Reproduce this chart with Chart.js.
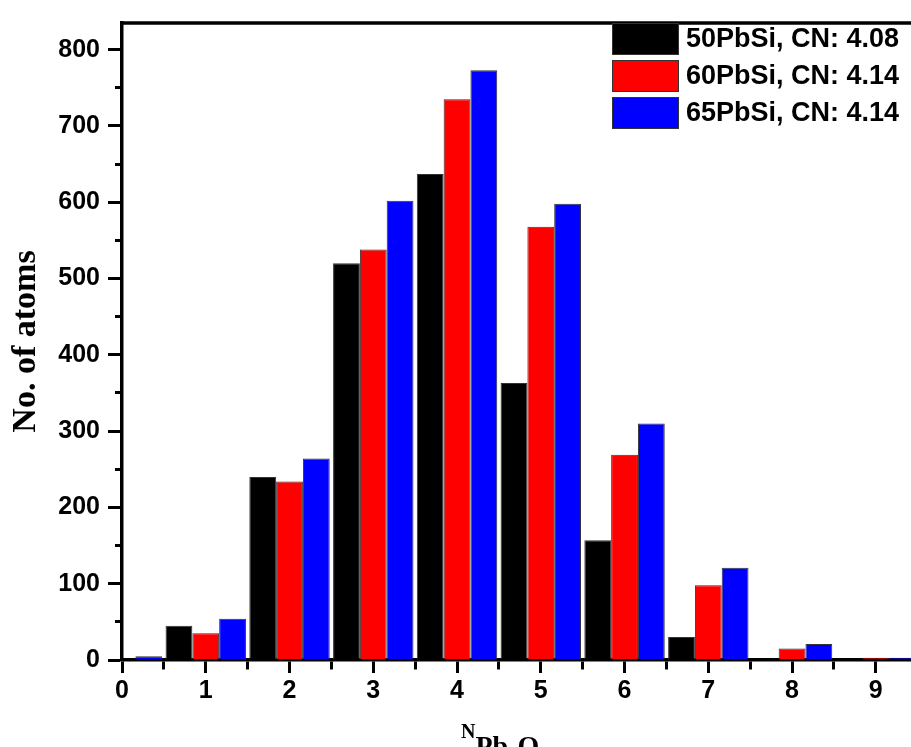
<!DOCTYPE html>
<html>
<head>
<meta charset="utf-8">
<script src="https://cdn.jsdelivr.net/npm/chart.js@4"></script>
<style>
    body { margin: 0; background: #fff; }
    #wrap { position: relative; width: 911px; height: 747px; overflow: hidden; }
    #legend { position: absolute; left: 612px; top: 20px; font: bold 27px 'Liberation Sans', Arial, sans-serif; }
    .row { display: flex; align-items: center; height: 37px; }
    .box { width: 65px; height: 30px; border: 1px solid #333; margin-right: 7px; }
    #xtitle { position: absolute; left: 461px; top: 719px; font: bold 20px 'Liberation Serif', 'Times New Roman', serif; line-height: 19px; white-space: nowrap; }
    #xtitle span { position: relative; top: 17px; font-size: 28px; }
</style>
</head>
<body>
<div id="wrap">
    <canvas id="cnChart"></canvas>
    <div id="legend"></div>
    <div id="xtitle">N<span>Pb-O</span></div>
</div>
<script>
// Pb-O coordination number distribution
const categories = [0, 1, 2, 3, 4, 5, 6, 7, 8, 9];
const pb50 = [0, 45, 240, 520, 637, 363, 157, 30, 0, 0];
const pb60 = [0, 35, 234, 538, 735, 568, 269, 98, 15, 3];
const pb65 = [5, 54, 264, 602, 773, 598, 310, 121, 21, 3];
const seriesLabels = ['50PbSi, CN: 4.08', '60PbSi, CN: 4.14', '65PbSi, CN: 4.14'];
const seriesColors = ['#000000', '#ff0000', '#0000ff'];

function initializeCnChart() {
    const ctx = document.getElementById('cnChart').getContext('2d');

    const toPoints = vals => categories.map((c, i) => ({ x: c, y: vals[i] }));
    const datasets = [pb50, pb60, pb65].map((vals, i) => ({
        label: seriesLabels[i],
        data: toPoints(vals),
        backgroundColor: seriesColors[i],
        borderColor: '#333',
        borderWidth: 1,
        barPercentage: 1,
        // ruler uses the 0.5 minor tick spacing, so double it to fill ~96% of a unit
        categoryPercentage: 1.92
    }));

    // top frame line
    const frameTop = {
        id: 'frameTop',
        afterDraw(chart) {
            const a = chart.chartArea;
            const c = chart.ctx;
            c.save();
            c.strokeStyle = '#000';
            c.lineWidth = 3.5;
            c.beginPath();
            c.moveTo(a.left - 1.5, a.top);
            c.lineTo(a.right, a.top);
            c.stroke();
            c.restore();
        }
    };

    const tickFont = { family: "'Liberation Sans', Arial, sans-serif", size: 25, weight: 'bold' };

    new Chart(ctx, {
        type: 'bar',
        data: { datasets: datasets },
        options: {
            responsive: true,
            maintainAspectRatio: false,
            animation: false,
            layout: { padding: { top: 13, right: 0, left: 0, bottom: 0 } },
            plugins: {
                legend: { display: false },
                tooltip: { enabled: false }
            },
            scales: {
                x: {
                    type: 'linear',
                    min: 0,
                    max: 9.42,
                    offset: false,
                    z: 1,
                    afterFit: s => { s.height = 87; },
                    grid: {
                        offset: false,
                        drawOnChartArea: false,
                        color: '#000',
                        tickLength: 13,
                        tickWidth: 3,
                        tickBorderDash: c => (c.tick && c.tick.value % 1 !== 0) ? [8, 100] : []
                    },
                    border: { color: '#000', width: 3.5 },
                    ticks: {
                        stepSize: 0.5,
                        includeBounds: false,
                        autoSkip: false,
                        maxRotation: 0,
                        padding: 3,
                        color: '#000',
                        font: tickFont,
                        callback: v => v % 1 === 0 ? v : ''
                    }
                },
                y: {
                    min: 0,
                    max: 835,
                    z: 1,
                    afterFit: s => { s.width = 122; },
                    grid: {
                        drawOnChartArea: false,
                        color: '#000',
                        tickLength: 14,
                        tickWidth: 3,
                        tickBorderDash: c => (c.tick && c.tick.value % 100 !== 0) ? [0, 7, 10, 100] : []
                    },
                    border: { color: '#000', width: 3.5 },
                    ticks: {
                        stepSize: 50,
                        includeBounds: false,
                        padding: 8,
                        color: '#000',
                        font: tickFont,
                        callback: v => v % 100 === 0 ? v : ''
                    },
                    title: {
                        display: true,
                        text: 'No. of atoms',
                        color: '#000',
                        padding: { top: 6, bottom: 0 },
                        font: { family: "'Liberation Serif', 'Times New Roman', serif", size: 34, weight: 'bold' }
                    }
                }
            }
        },
        plugins: [frameTop]
    });

    // legend drawn in the top right corner of the plot
    const legend = document.getElementById('legend');
    seriesLabels.forEach((lab, i) => {
        const row = document.createElement('div');
        row.className = 'row';
        row.innerHTML = '<div class="box" style="background:' + seriesColors[i] + '"></div><span>' + lab + '</span>';
        legend.appendChild(row);
    });
}

document.addEventListener('DOMContentLoaded', initializeCnChart);
</script>
</body>
</html>
